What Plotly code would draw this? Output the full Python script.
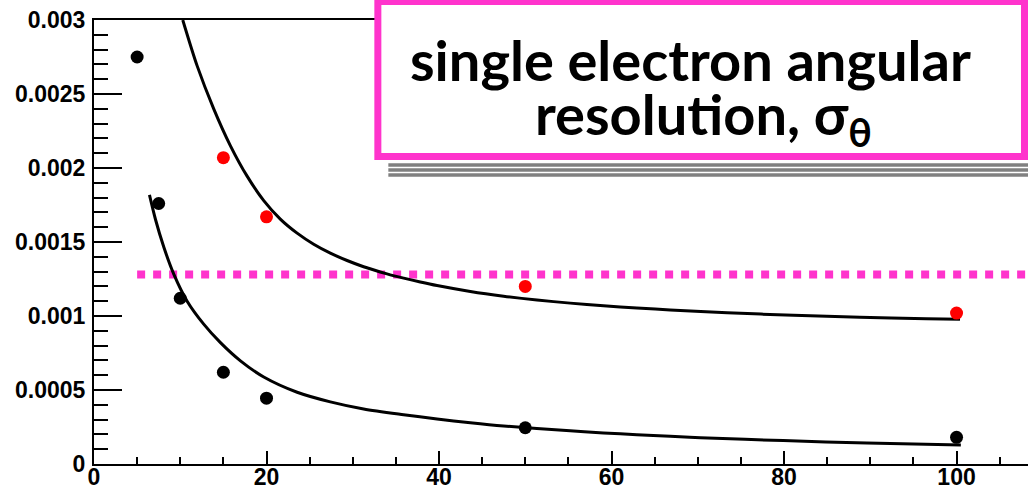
import plotly.graph_objects as go

# Canvas and plot-area geometry (pixels)
W, H = 1028, 488
L, R, T, B = 93.5, 0, 20, 24
PW = W - L - R
PH = H - T - B

# Measured resolution points
energy_black = [5, 7.5, 10, 15, 20, 50, 100]
sigma_black = [0.00275, 0.00176, 0.00112, 0.00062, 0.000445, 0.000245, 0.00018]
energy_red = [15, 20, 50, 100]
sigma_red = [0.00207, 0.00167, 0.00120, 0.00102]

# Fitted resolution curves (sampled)
fit_upper_x = [10.29, 11.96, 13.88, 15.82, 17.75, 19.68, 21.6, 23.55, 25.47, 27.4,
               29.34, 31.26, 33.97, 35.9, 37.83, 39.77, 43.63, 47.49, 51.36, 55.21,
               59.07, 62.94, 66.8, 73.4, 81.1, 88.8, 96.5, 100.4]
fit_upper_y = [0.003, 0.00269, 0.00240, 0.00215, 0.001945, 0.00178, 0.001655, 0.00156,
               0.001485, 0.001425, 0.001375, 0.001333, 0.001285, 0.001256, 0.00123,
               0.001206, 0.001166, 0.001134, 0.001108, 0.001087, 0.001069, 0.001054,
               0.001041, 0.001022, 0.001005, 0.000992, 0.000982, 0.000978]
fit_lower_x = [6.43, 7.13, 8.09, 9.25, 10.8, 12.72, 14.66, 16.98, 19.68, 23.55, 27.4,
               31.26, 35.9, 39.77, 43.63, 47.49, 55.2, 59.07, 62.94, 66.8, 70.3, 79.9,
               89.6, 100.5]
fit_lower_y = [0.001818, 0.001652, 0.001466, 0.001283, 0.0011, 0.000945, 0.00082,
               0.000697, 0.000588, 0.000485, 0.00042, 0.000372, 0.000333, 0.000304,
               0.000279, 0.000257, 0.000224, 0.00021, 0.000198, 0.000187, 0.000178,
               0.000158, 0.000142, 0.000128]

# Requirement level
limit_x = [5, 108.3]
limit_y = [0.00128, 0.00128]

x_ticks = [0, 20, 40, 60, 80, 100]
x_ticktext = ["0", "20", "40", "60", "80", "100"]
y_ticks = [0, 0.0005, 0.001, 0.0015, 0.002, 0.0025, 0.003]
y_ticktext = ["0", "0.0005", "0.001", "0.0015", "0.002", "0.0025", "0.003"]

MAGENTA = "#ff33cc"


def px_x(p):
    return (p - L) / PW


def px_y(p):
    return (H - B - p) / PH


fig = go.Figure()

fig.add_trace(go.Scatter(x=limit_x, y=limit_y, mode="lines",
                         line=dict(color=MAGENTA, width=8, dash="8px,8px"),
                         hoverinfo="skip"))
fig.add_trace(go.Scatter(x=fit_upper_x, y=fit_upper_y, mode="lines",
                         line=dict(color="black", width=3, shape="spline", smoothing=0.8)))
fig.add_trace(go.Scatter(x=fit_lower_x, y=fit_lower_y, mode="lines",
                         line=dict(color="black", width=3, shape="spline", smoothing=0.8)))
fig.add_trace(go.Scatter(x=energy_black, y=sigma_black, mode="markers",
                         marker=dict(color="black", size=13)))
fig.add_trace(go.Scatter(x=energy_red, y=sigma_red, mode="markers",
                         marker=dict(color="#ff0000", size=13)))

tick_font = dict(family="Liberation Sans, Arial, sans-serif", size=23,
                 color="black", weight="bold")

fig.update_xaxes(range=[0, PW / 8.63], showgrid=False, zeroline=False, automargin=False,
                 showline=True, linecolor="black", linewidth=2, mirror=True,
                 ticks="inside", ticklen=13, tickwidth=2, tickcolor="black",
                 tickvals=x_ticks, ticktext=x_ticktext, tickfont=tick_font,
                 ticklabelstandoff=-9,
                 minor=dict(dtick=5, ticks="inside", ticklen=7, tickwidth=2,
                            tickcolor="black", showgrid=False))
fig.update_yaxes(range=[0, 0.003], showgrid=False, zeroline=False, automargin=False,
                 showline=True, linecolor="black", linewidth=2,
                 ticks="inside", ticklen=28, tickwidth=2, tickcolor="black",
                 tickvals=y_ticks, ticktext=y_ticktext, tickfont=tick_font,
                 ticklabelstandoff=2,
                 minor=dict(dtick=0.0001, ticks="inside", ticklen=14, tickwidth=2,
                            tickcolor="black", showgrid=False))

shapes = []
# shadow stripes under the title box
for py in [165, 170, 175]:
    shapes.append(dict(type="line", xref="paper", yref="paper",
                       x0=px_x(388), x1=px_x(1030), y0=px_y(py), y1=px_y(py),
                       line=dict(color="#808080", width=3.5), layer="above"))
# title box
shapes.append(dict(type="rect", xref="paper", yref="paper",
                   x0=px_x(377.5), x1=px_x(1024.5), y0=px_y(156.5), y1=px_y(1.5),
                   line=dict(color=MAGENTA, width=7), fillcolor="white", layer="above"))

title_font = dict(family="Comic Sans MS, Lato, sans-serif", size=56,
                  color="black", weight="bold")
annotations = [
    dict(text="single electron angular", xref="paper", yref="paper",
         x=px_x(690), y=px_y(60), xanchor="center", yanchor="middle",
         showarrow=False, font=title_font),
    dict(text="resolution, σ<sub>θ</sub>", xref="paper", yref="paper",
         x=px_x(703), y=px_y(118), xanchor="center", yanchor="middle",
         showarrow=False, font=title_font),
]

fig.update_layout(width=W, height=H, margin=dict(l=L, r=R, t=T, b=B, pad=0),
                  paper_bgcolor="white", plot_bgcolor="white", showlegend=False,
                  shapes=shapes, annotations=annotations)

fig.write_html("out.html")
